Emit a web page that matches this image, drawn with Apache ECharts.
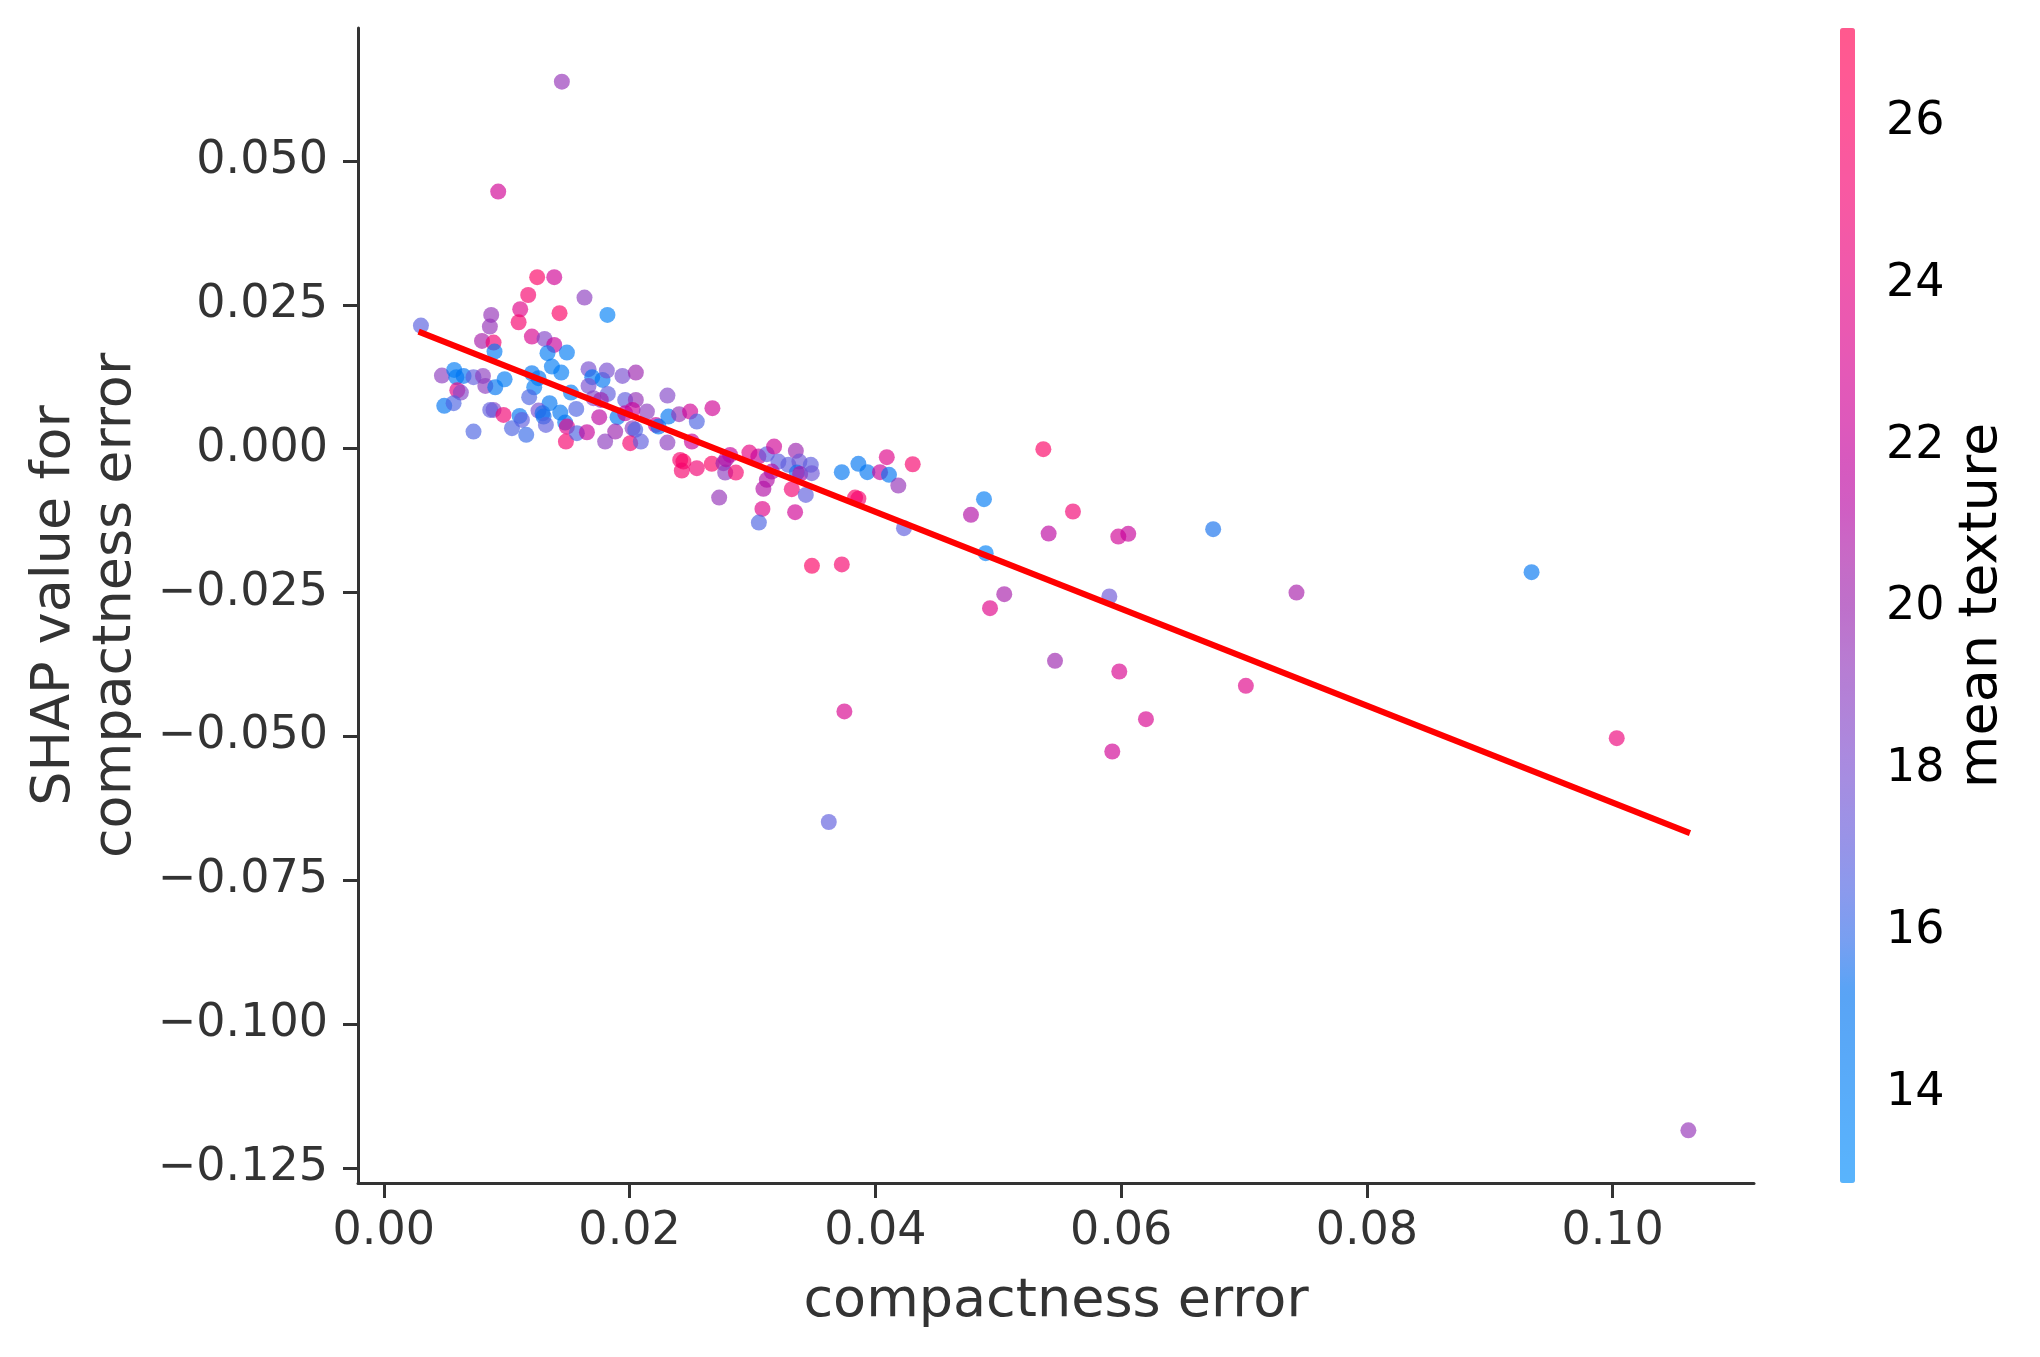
<!DOCTYPE html>
<html>
<head>
<meta charset="utf-8">
<script src="https://cdn.jsdelivr.net/npm/echarts@6/dist/echarts.min.js"></script>
<style>
html,body{margin:0;padding:0;background:#fff;}
#chart{width:2040px;height:1357px;}
</style>
</head>
<body>
<div id="chart"></div>
<script>
// compactness error (feature value)
const compactnessError = [
0.01449,0.00931,0.01248,0.01387,0.01175,0.01633,0.0111,0.0143,0.0182,0.00302,
0.00874,0.00863,0.01097,0.00799,0.00893,0.00901,0.01205,0.01308,0.01387,0.01332,
0.0149,0.00473,0.00573,0.0059,0.00649,0.0073,0.00807,0.00598,0.00627,0.00826,
0.00907,0.00983,0.00492,0.00568,0.0073,0.00893,0.00866,0.00974,0.01105,0.01124,
0.01043,0.01159,0.01205,0.01259,0.01224,0.01183,0.01368,0.01444,0.01523,0.01349,
0.01436,0.01566,0.01259,0.01292,0.013,0.01319,0.01476,0.0149,0.01482,0.01571,
0.01653,0.01666,0.01696,0.0178,0.01815,0.01666,0.01823,0.01706,0.01766,0.01753,
0.01902,0.01883,0.01801,0.01942,0.02051,0.01964,0.02051,0.02024,0.01964,0.02141,
0.02024,0.02046,0.02005,0.02092,0.02308,0.02214,0.02235,0.02316,0.02308,0.02403,
0.02493,0.02507,0.02547,0.02412,0.02438,0.02425,0.02547,0.02674,0.02669,0.02764,
0.02778,0.02818,0.02786,0.02865,0.02729,0.02975,0.03048,0.03117,0.03176,0.03211,
0.03157,0.03117,0.03089,0.03292,0.03353,0.03382,0.03361,0.03388,0.03475,0.03483,
0.0332,0.03434,0.03081,0.03347,0.03052,0.03727,0.03862,0.03935,0.04093,0.04038,
0.04111,0.04187,0.04304,0.03835,0.03862,0.04233,0.03484,0.03727,0.05367,0.04884,
0.04778,0.05608,0.0541,0.05977,0.06058,0.06749,0.04898,0.05049,0.04933,0.05904,
0.07427,0.05462,0.05985,0.07015,0.06202,0.05928,0.0934,0.10033,0.03748,0.03621,
0.10616
];
// SHAP value for compactness error
const shapValues = [
0.06378,0.04467,0.0298,0.0298,0.0267,0.02626,0.02423,0.02354,0.02324,0.02139,
0.02324,0.02121,0.02197,0.01873,0.01844,0.01687,0.01948,0.01908,0.01803,0.01659,
0.0167,0.0127,0.01369,0.01242,0.01265,0.01242,0.01265,0.01015,0.00975,0.01091,
0.01068,0.01207,0.00744,0.0079,0.00297,0.00674,0.00674,0.00587,0.0057,0.005,
0.00356,0.0024,0.01311,0.01225,0.01068,0.00895,0.01427,0.01322,0.00975,0.0079,
0.00628,0.00691,0.00662,0.00616,0.00558,0.00413,0.00453,0.00384,0.00124,0.00269,
0.00286,0.01381,0.01242,0.01195,0.01357,0.01091,0.00952,0.00877,0.00848,0.00547,
0.00547,0.00297,0.00124,0.01265,0.01322,0.00848,0.00848,0.00674,0.00616,0.00645,
0.00356,0.00327,0.00096,0.00124,0.00923,0.00413,0.00384,0.00558,0.00106,0.00599,
0.00645,0.00124,0.00471,-0.00195,-0.00224,-0.0038,-0.00339,0.00704,-0.00264,-0.00252,
-0.00415,-0.00108,-0.00183,-0.00415,-0.00849,-0.00067,-0.00137,-0.00096,0.00037,-0.00224,
-0.00398,-0.00542,-0.00698,-0.00281,-0.00038,-0.00224,-0.00415,-0.00438,-0.00281,-0.00426,
-0.00704,-0.00803,-0.01046,-0.01104,-0.01284,-0.00409,-0.00264,-0.00409,-0.00148,-0.00409,
-0.00455,-0.00641,-0.0027,-0.0085,-0.0087,-0.01382,-0.02036,-0.02012,-0.00009,-0.00878,
-0.0115,-0.01092,-0.01475,-0.01527,-0.0148,-0.01399,-0.01816,-0.02528,-0.02771,-0.02569,
-0.025,-0.03687,-0.03872,-0.04121,-0.047,-0.05262,-0.02146,-0.0503,-0.04566,-0.06487,
-0.11845
];
// mean texture (colour feature)
const meanTexture = [
19.5,22.5,26,22.5,25.5,19,23.5,26,14,16.8,
19.5,19.5,25.5,20.5,25,14.5,23,18.5,22,14.5,
14.5,19,14.5,14.5,15,17,19,24,18.5,19,
15,14.5,15,16.5,16.5,18.5,17,25,15,17,
16.5,16,15,15,14.5,16.5,14.5,14.5,14.5,15,
15,16.5,18,15.5,15.5,17,15,23.5,25.5,16.5,
22,18,15,15,18,18,17,18.5,20,21.5,
15,20,19,18,20,17,19.5,22,22,19,
19,16.5,25.5,17,18.5,22,15,15,19,19.5,
22.5,22,16.5,25.5,26,25.5,25,22.5,26,20,
19,22,21,25.5,19.5,24,22,17,22.5,17,
21,21,21,17,20,17.5,15.5,21,17,17.5,
25,17,23.5,22.5,16.5,15,15,15,23.5,22,
15,19.5,25.5,26,25.5,17,26,25.5,26,14.5,
21,25,21.5,22.5,22,15.5,14,20.5,23.5,17.5,
20.5,20,23,23.5,23,22.5,15,24.5,23,17,
19.5
];
// fitted trend line endpoints
const trendX = [0.00283, 0.10629];
const trendY = [0.02034, -0.0668];

const xTicks = [0, 0.02, 0.04, 0.06, 0.08, 0.10];
const yTicks = [-0.125, -0.1, -0.075, -0.05, -0.025, 0, 0.025, 0.05];
const cbTicks = [14, 16, 18, 20, 22, 24, 26];
const cbMin = 12.89, cbMax = 27.16;

// SHAP red_blue colormap (LCH interpolation)
function shapColor(t) {
  const L = t < 0.5 ? 54 + (40 - 54) * (t / 0.5) : 40 + (54 - 40) * ((t - 0.5) / 0.5);
  const C = 70 + 20 * t;
  const h = 4.6588 + t * (0.35470565 + 2 * Math.PI - 4.6588);
  const a = C * Math.cos(h), b = C * Math.sin(h);
  const fy = (L + 16) / 116, fx = fy + a / 500, fz = fy - b / 200;
  const finv = f => f > 0.2068966 ? f * f * f : (f - 16 / 116) / 7.787;
  const X = 0.95047 * finv(fx), Y = finv(fy), Z = 1.08883 * finv(fz);
  let r = 3.24048134 * X - 1.53715152 * Y - 0.49853633 * Z;
  let g = -0.96925495 * X + 1.87599 * Y + 0.04155593 * Z;
  let bb = 0.05564664 * X - 0.20404134 * Y + 1.05731107 * Z;
  const gam = v => { v = v > 0.0031308 ? 1.055 * Math.pow(v, 1 / 2.4) - 0.055 : 12.92 * v; return Math.round(Math.min(1, Math.max(0, v)) * 255); };
  return [gam(r), gam(g), gam(bb)];
}
const ALPHA = 0.65;
const stops = [], stopsBlend = [];
for (let i = 0; i <= 24; i++) {
  const c = shapColor(i / 24);
  stops.push('rgb(' + c.join(',') + ')');
  stopsBlend.push('rgb(' + c.map(v => Math.round(255 * (1 - ALPHA) + v * ALPHA)).join(',') + ')');
}

const FONT = 'DejaVu Sans';
const pts = compactnessError.map((x, i) => [x, shapValues[i], meanTexture[i]]);
const fmtMinus = s => s.replace('-', '\u2212');

const chart = echarts.init(document.getElementById('chart'), null, {renderer: 'canvas'});
chart.setOption({
  animation: false,
  backgroundColor: '#ffffff',
  grid: [
    {left: 358, top: 28, width: 1396, height: 1155, outerBoundsMode: 'none', containLabel: false},
    {left: 1840, top: 28, width: 15, height: 1155, outerBoundsMode: 'none', containLabel: false}
  ],
  xAxis: [{
    type: 'value', gridIndex: 0, min: -0.0021, max: 0.1115,
    name: 'compactness error', nameLocation: 'middle', nameGap: 92,
    nameTextStyle: {fontFamily: FONT, fontSize: 54, color: '#333333'},
    axisLine: {show: true, onZero: false, lineStyle: {color: '#333333', width: 3}},
    axisTick: {show: true, length: 15, customValues: xTicks, lineStyle: {color: '#333333', width: 3}},
    axisLabel: {customValues: xTicks, margin: 26, fontFamily: FONT, fontSize: 46, color: '#333333',
      formatter: v => v.toFixed(2)},
    splitLine: {show: false}
  }, {
    type: 'value', gridIndex: 1, show: false, min: 0, max: 1
  }],
  yAxis: [{
    type: 'value', gridIndex: 0, min: -0.1276, max: 0.0731,
    name: 'SHAP value for\ncompactness error', nameLocation: 'middle', nameRotate: 90, nameGap: 212,
    nameTextStyle: {fontFamily: FONT, fontSize: 54, lineHeight: 61, color: '#333333', align: 'center'},
    axisLine: {show: true, onZero: false, lineStyle: {color: '#333333', width: 3}},
    axisTick: {show: true, length: 15, customValues: yTicks, lineStyle: {color: '#333333', width: 3}},
    axisLabel: {customValues: yTicks, margin: 30, fontFamily: FONT, fontSize: 46, color: '#333333',
      padding: [5, 0, 0, 0],
      formatter: v => fmtMinus(v.toFixed(3))},
    splitLine: {show: false}
  }, {
    type: 'value', gridIndex: 1, position: 'right', min: cbMin, max: cbMax,
    name: 'mean texture', nameLocation: 'middle', nameRotate: 90, nameGap: 100,
    nameTextStyle: {fontFamily: FONT, fontSize: 54, color: '#000000'},
    axisLine: {show: false},
    axisTick: {show: true, length: 15, inside: false, customValues: cbTicks, lineStyle: {color: '#000000', width: 3}},
    axisLabel: {customValues: cbTicks, margin: 31, fontFamily: FONT, fontSize: 46, color: '#000000',
      padding: [6, 0, 0, 0]},
    splitLine: {show: false}
  }],
  visualMap: [{
    type: 'continuous', seriesIndex: 0, dimension: 2,
    min: cbMin, max: cbMax, calculable: false, hoverLink: false,
    orient: 'vertical', left: 1840, top: 28, padding: 0,
    itemWidth: 15, itemHeight: 1155,
    inRange: {color: stops},
    controller: {inRange: {color: stopsBlend}},
    textStyle: {fontSize: 0}
  }],
  series: [{
    type: 'scatter', xAxisIndex: 0, yAxisIndex: 0,
    data: pts, symbolSize: 16,
    itemStyle: {opacity: ALPHA, borderWidth: 0},
    z: 2
  }, {
    type: 'line', xAxisIndex: 0, yAxisIndex: 0,
    data: trendX.map((x, i) => [x, trendY[i]]),
    symbol: 'none', lineStyle: {color: '#ff0000', width: 6}, z: 5
  }]
});
</script>
</body>
</html>
